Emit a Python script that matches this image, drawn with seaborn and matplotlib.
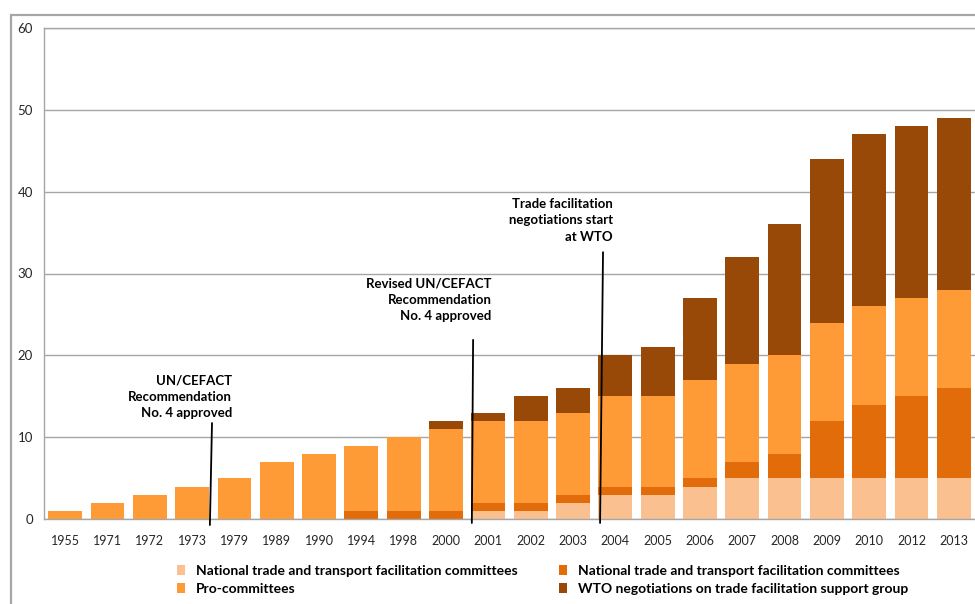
import numpy as np
import matplotlib
matplotlib.use("Agg")
import matplotlib.pyplot as plt
from matplotlib.patches import Patch, Rectangle
import seaborn as sns

# Categories (years) and the four stacked series
years = ["1955", "1971", "1972", "1973", "1979", "1989", "1990", "1994", "1998",
         "2000", "2001", "2002", "2003", "2004", "2005", "2006", "2007", "2008",
         "2009", "2010", "2012", "2013"]
national_light = [0, 0, 0, 0, 0, 0, 0, 0, 0, 0, 1, 1, 2, 3, 3, 4, 5, 5, 5, 5, 5, 5]
national_dark = [0, 0, 0, 0, 0, 0, 0, 1, 1, 1, 1, 1, 1, 1, 1, 1, 2, 3, 7, 9, 10, 11]
pro_committees = [1, 2, 3, 4, 5, 7, 8, 8, 9, 10, 10, 10, 10, 11, 11, 12, 12, 12, 12, 12, 12, 12]
wto_group = [0, 0, 0, 0, 0, 0, 0, 0, 0, 1, 1, 3, 3, 5, 6, 10, 13, 16, 20, 21, 21, 21]

series_labels = ["National trade and transport facilitation committees",
                 "Pro-committees",
                 "National trade and transport facilitation committees",
                 "WTO negotiations on trade facilitation support group"]
yticks = [0, 10, 20, 30, 40, 50, 60]

c_light = "#FAC090"
c_pro = "#FF9B37"
c_dark = "#E36C0A"
c_wto = "#984807"
grid_c = "#A6A6A6"
text_c = "#262626"

sns.set_theme(style="white")
plt.rcParams["font.family"] = ["Lato", "DejaVu Sans"]

fig = plt.figure(figsize=(9.75, 6.04), dpi=100)
ax = fig.add_axes([44 / 975, 1 - 519.3 / 604, 931 / 975, (519.3 - 27.7) / 604])

# Stacked bars: draw cumulative totals from the top layer down
layers = [national_light, national_dark, pro_committees, wto_group]
colors = [c_light, c_dark, c_pro, c_wto]
cum = np.cumsum(np.array(layers, dtype=float), axis=0)
for i in range(len(layers) - 1, -1, -1):
    sns.barplot(x=years, y=cum[i], color=colors[i], saturation=1, width=0.8,
                order=years, ax=ax, zorder=2, linewidth=0, edgecolor="none")

ax.set_ylim(0, 60)
ax.set_xlim(-0.5, len(years) - 0.5)
ax.set_yticks(yticks)
ax.yaxis.grid(True, color=grid_c, linewidth=1.0, zorder=0)
ax.set_axisbelow(True)
ax.set_xlabel("")
ax.set_ylabel("")
for side in ["left", "bottom", "top"]:
    ax.spines[side].set_color(grid_c)
    ax.spines[side].set_linewidth(1.0)
ax.spines["right"].set_visible(False)
ax.tick_params(axis="y", length=0, pad=8, labelsize=9.5, labelcolor=text_c)
ax.tick_params(axis="x", length=0, pad=11, labelsize=9, labelcolor=text_c)

# Milestone annotations
notes = [
    ("UN/CEFACT\nRecommendation\nNo. 4 approved", 3.94, 14.95, (3.47, 11.75), (3.42, -0.7)),
    ("Revised UN/CEFACT\nRecommendation\nNo. 4 approved", 10.08, 26.8, (9.64, 21.9), (9.61, -0.45)),
    ("Trade facilitation\nnegotiations start\nat WTO", 12.94, 36.5, (12.71, 32.6), (12.64, -0.45)),
]
for txt, tx, ty, top, bot in notes:
    ax.text(tx, ty, txt, ha="right", va="center", fontsize=9.5, fontweight="bold",
            color="black", linespacing=1.45, zorder=5)
    ax.plot([top[0], bot[0]], [top[1], bot[1]], color="black", linewidth=1.3,
            clip_on=False, zorder=5)

# Legend below the plot
handles = [Patch(facecolor=c_light, edgecolor="none"),
           Patch(facecolor=c_pro, edgecolor="none"),
           Patch(facecolor=c_dark, edgecolor="none"),
           Patch(facecolor=c_wto, edgecolor="none")]
leg = fig.legend(handles, series_labels, ncol=2, loc="upper left",
                 bbox_to_anchor=(177 / 975, 1 - 565 / 604), frameon=False,
                 prop={"size": 10, "weight": "bold"}, handlelength=0.55,
                 handleheight=0.75, handletextpad=0.8, columnspacing=3.0,
                 labelspacing=0.45, borderaxespad=0, borderpad=0)
for t in leg.get_texts():
    t.set_color("black")

# Outer chart border
fig.add_artist(Rectangle((10.5 / 975, -0.1), 1.2, 1.1 - 15 / 604, transform=fig.transFigure,
                         fill=False, edgecolor=grid_c, linewidth=1.6, clip_on=False))

fig.savefig("out.png", dpi=100)
